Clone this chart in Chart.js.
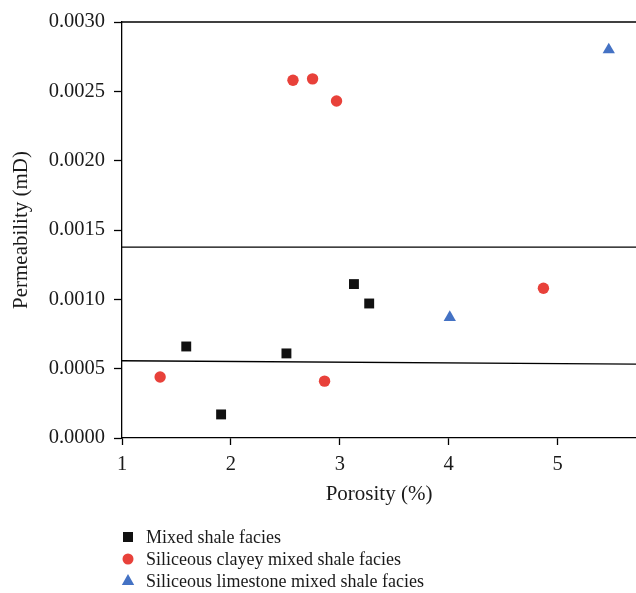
<!DOCTYPE html>
<html>
<head>
<meta charset="utf-8">
<script src="https://cdn.jsdelivr.net/npm/chart.js@4.4.1/dist/chart.umd.min.js"></script>
<style>
  html, body { margin: 0; padding: 0; background: #fff; }
  #wrap { width: 636px; height: 593px; }
</style>
</head>
<body>
<div id="wrap"><canvas id="permChart" width="636" height="593"></canvas></div>
<script>
// values
const mixedX = [1.59, 1.91, 2.51, 3.13, 3.27];
const mixedY = [0.00066, 0.00017, 0.00061, 0.00111, 0.00097];

const clayX = [1.35, 2.57, 2.75, 2.86, 2.97, 4.87];
const clayY = [0.00044, 0.00258, 0.00259, 0.00041, 0.00243, 0.00108];

const limeX = [4.01, 5.47];
const limeY = [0.00087, 0.00280];

// fitted lines (end points)
const fitX = [1, 5.72];
const fitLowY = [0.000557, 0.000533];
const fitHighY = [0.001376, 0.001376];

const xTicks = [1, 2, 3, 4, 5];
const yTicks = [0, 0.0005, 0.0010, 0.0015, 0.0020, 0.0025, 0.0030];

const seriesNames = [
  "Mixed shale facies",
  "Siliceous clayey mixed shale facies",
  "Siliceous limestone mixed shale facies"
];

const toPoints = (xs, ys) => xs.map((x, i) => ({ x: x, y: ys[i] }));

const serif = "'Liberation Serif', 'DejaVu Serif', serif";
const textColor = "#1a1a1a";

// top frame line + legend under the plot
const extras = {
  id: "extras",
  afterDraw(chart) {
    const ctx = chart.ctx;
    const area = chart.chartArea;
    ctx.save();
    ctx.strokeStyle = "#000";
    ctx.lineWidth = 1.3;
    ctx.beginPath();
    ctx.moveTo(area.left, area.top);
    ctx.lineTo(area.right, area.top);
    ctx.stroke();

    ctx.font = "18px " + serif;
    ctx.textBaseline = "middle";
    const rows = [537, 559, 581];
    chart.data.datasets.filter(d => d.legend).forEach((ds, i) => {
      const cx = 128, cy = rows[i];
      ctx.fillStyle = ds.backgroundColor;
      ctx.beginPath();
      if (ds.pointStyle === "rect") {
        ctx.rect(cx - 5, cy - 5, 10, 10);
      } else if (ds.pointStyle === "circle") {
        ctx.arc(cx, cy, 5.5, 0, Math.PI * 2);
      } else {
        ctx.moveTo(cx, cy - 7);
        ctx.lineTo(cx + 6.2, cy + 4);
        ctx.lineTo(cx - 6.2, cy + 4);
        ctx.closePath();
      }
      ctx.fill();
      ctx.fillStyle = textColor;
      ctx.fillText(ds.label, 146, cy + 1);
    });
    ctx.restore();
  }
};

new Chart(document.getElementById("permChart").getContext("2d"), {
  type: "scatter",
  data: {
    datasets: [
      {
        label: seriesNames[0],
        legend: true,
        data: toPoints(mixedX, mixedY),
        pointStyle: "rect",
        pointRadius: 7,
        backgroundColor: "#111111",
        borderWidth: 0
      },
      {
        label: seriesNames[1],
        legend: true,
        data: toPoints(clayX, clayY),
        pointStyle: "circle",
        pointRadius: 5.7,
        backgroundColor: "#e8413a",
        borderWidth: 0
      },
      {
        label: seriesNames[2],
        legend: true,
        data: toPoints(limeX, limeY),
        pointStyle: "triangle",
        pointRadius: 7.1,
        backgroundColor: "#4472c4",
        borderWidth: 0
      },
      {
        label: "fit low",
        type: "line",
        data: toPoints(fitX, fitLowY),
        showLine: true,
        pointRadius: 0,
        borderColor: "#000",
        borderWidth: 1.3
      },
      {
        label: "fit high",
        type: "line",
        data: toPoints(fitX, fitHighY),
        showLine: true,
        pointRadius: 0,
        borderColor: "#000",
        borderWidth: 1.3
      }
    ]
  },
  options: {
    responsive: false,
    animation: false,
    devicePixelRatio: 1,
    layout: { autoPadding: false, padding: { top: 22, right: 0, left: 0, bottom: 86 } },
    plugins: {
      legend: { display: false },
      tooltip: { enabled: false }
    },
    scales: {
      x: {
        type: "linear",
        min: 1,
        max: 5.72,
        afterBuildTicks: s => { s.ticks = xTicks.map(v => ({ value: v })); },
        afterFit: s => { s.height = 69; },
        grid: { drawOnChartArea: false, tickLength: 7, color: "#000", tickWidth: 1.3 },
        border: { display: true, color: "#000", width: 1.3 },
        ticks: {
          color: textColor,
          padding: 7,
          maxRotation: 0,
          font: { family: serif, size: 20.5 },
          callback: v => String(v)
        },
        title: {
          display: true,
          text: "Porosity (%)",
          color: textColor,
          padding: { top: 0, bottom: 0 },
          font: { family: serif, size: 21 }
        }
      },
      y: {
        type: "linear",
        min: 0,
        max: 0.003,
        afterBuildTicks: s => { s.ticks = yTicks.map(v => ({ value: v })); },
        afterFit: s => { s.width = 122; },
        grid: { drawOnChartArea: false, tickLength: 8, color: "#000", tickWidth: 1.3 },
        border: { display: true, color: "#000", width: 1.3 },
        ticks: {
          color: textColor,
          padding: 9,
          font: { family: serif, size: 20.5 },
          callback: v => v.toFixed(4)
        },
        title: {
          display: true,
          text: "Permeability (mD)",
          color: textColor,
          padding: { top: 9, bottom: 0 },
          font: { family: serif, size: 21 }
        }
      }
    }
  },
  plugins: [extras]
});
</script>
</body>
</html>
